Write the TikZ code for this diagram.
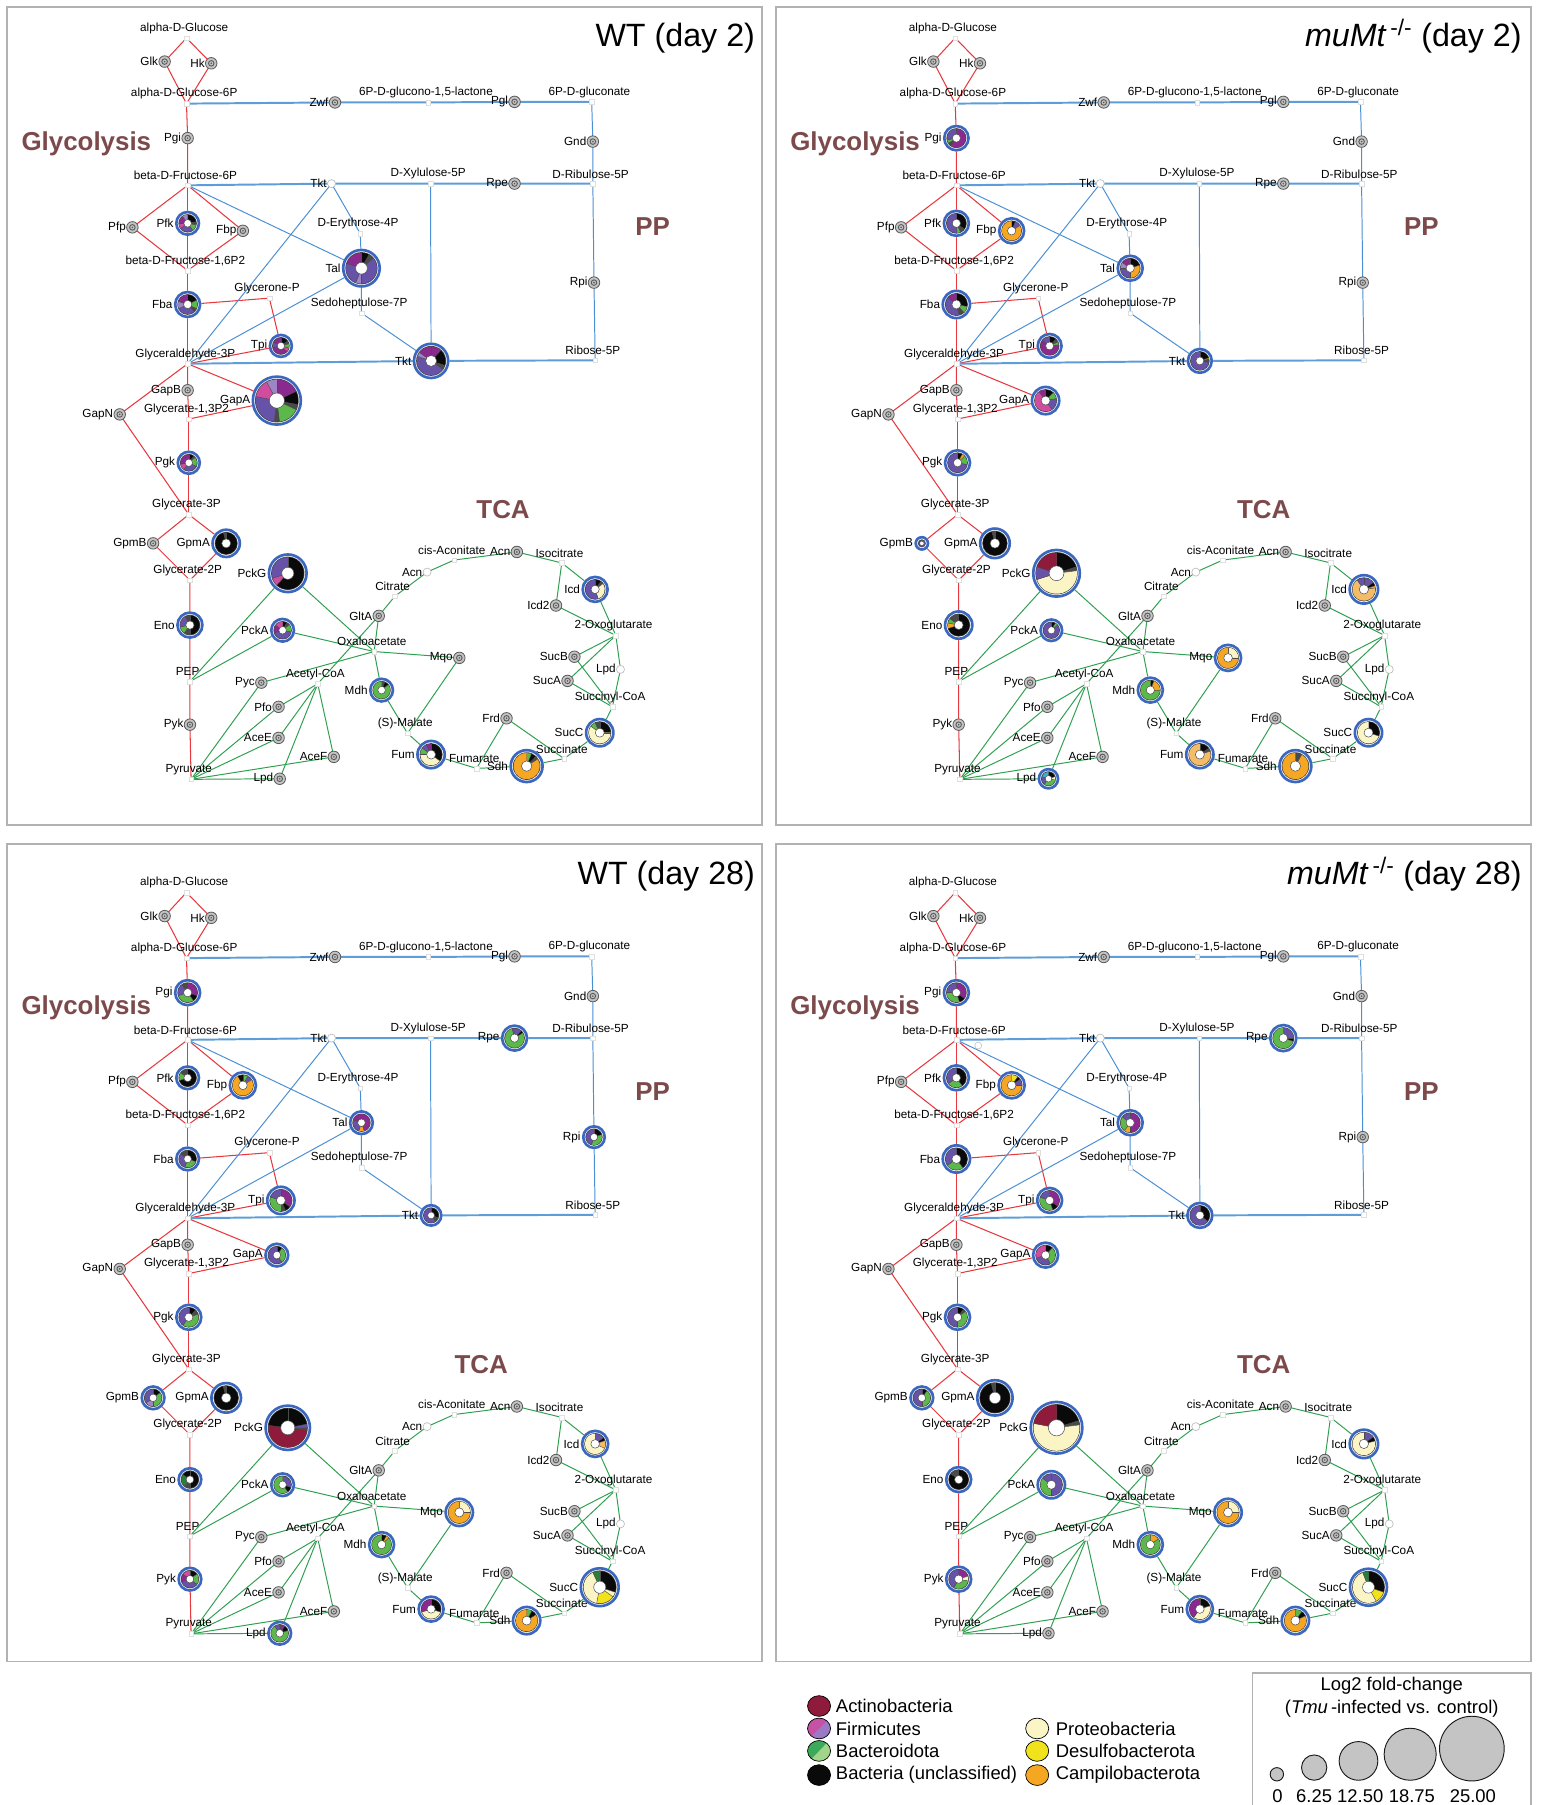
\documentclass[tikz,border=0pt]{standalone}
\usepackage{fontspec}
\setmainfont{Liberation Sans}
\usetikzlibrary{calc}
\definecolor{cA}{HTML}{8E1B3B}
\definecolor{cP}{HTML}{6652A6}
\definecolor{cM}{HTML}{8B2A8E}
\definecolor{cK}{HTML}{CF4C9E}
\definecolor{cL}{HTML}{9C86C6}
\definecolor{cG}{HTML}{5DB84B}
\definecolor{cD}{HTML}{2E7D3A}
\definecolor{cH}{HTML}{93D06E}
\definecolor{cB}{HTML}{0A0A0A}
\definecolor{cY}{HTML}{4A4A4A}
\definecolor{cC}{HTML}{FBF5C6}
\definecolor{cW}{HTML}{F0E21B}
\definecolor{cO}{HTML}{F5A623}
\definecolor{cT}{HTML}{F4BC67}
\definecolor{cQ}{HTML}{3AB3C3}
\definecolor{pieblue}{HTML}{3B68BE}
\definecolor{edgered}{HTML}{E8383D}
\definecolor{edgeblue}{HTML}{4A8FD4}
\definecolor{edgeblueT}{HTML}{5E9DDA}
\definecolor{edgegreen}{HTML}{2FA050}
\definecolor{brownlab}{HTML}{7D4A4C}
\definecolor{icongray}{HTML}{C4C4C4}
\definecolor{icondark}{HTML}{5A5A5A}
\definecolor{legpink}{HTML}{C552A5}
\definecolor{leglav}{HTML}{9A7AC5}
\definecolor{leggreen}{HTML}{3CAA5A}
\definecolor{leglgreen}{HTML}{A0D58A}
\definecolor{sizegray}{HTML}{C4C4C4}

\tikzset{
  redE/.style={draw=edgered, line width=0.9},
  bluE/.style={draw=edgeblue, line width=0.85},
  bluT/.style={draw=edgeblueT, line width=1.7},
  grnE/.style={draw=edgegreen, line width=0.85},
  mlab/.style={font=\fontsize{10.2}{11}\selectfont, inner sep=0},
  elab/.style={font=\fontsize{10.2}{11}\selectfont, inner sep=0, anchor=east},
  sect/.style={font=\fontsize{22.5}{24}\selectfont\bfseries, text=brownlab, inner sep=0},
  ttl/.style={font=\fontsize{28}{30}\selectfont, anchor=base east, inner sep=0},
  panelframe/.style={draw=gray!60, line width=1.3},
  legtext/.style={font=\fontsize{16}{18}\selectfont, inner sep=0},
  sizecirc/.style={fill=sizegray, draw=gray!20!black, line width=0.8},
}

\newcommand\defpt[2]{\expandafter\def\csname pt@#1\endcsname{#2}}
\newcommand\Pos[1]{\csname pt@#1\endcsname}
\newcommand\deflab[2]{\expandafter\def\csname lab@#1\endcsname{#2}}
\newcommand\Lab[1]{\ifcsname lab@#1\endcsname\csname lab@#1\endcsname\else#1\fi}

% metabolites
\defpt{aGlc}{162,33}
\defpt{G6P}{162,90}
\defpt{Lac}{372,89}
\defpt{Gluc}{514,88.5}
\defpt{F6P}{163,161}
\defpt{Xu5P}{374,159.5}
\defpt{Ru5P}{515,159.5}
\defpt{E4P}{313,203}
\defpt{F16P2}{163,235}
\defpt{GlyP}{234,259}
\defpt{S7P}{314,272}
\defpt{GA3P}{163,316}
\defpt{R5P}{517,313}
\defpt{BPG}{164,364}
\defpt{G3P}{164,447}
\defpt{G2P}{165,504}
\defpt{PEP}{165,592}
\defpt{Pyr}{166,677}
\defpt{AcCoA}{276,594}
\defpt{OAA}{325,566}
\defpt{Cit}{343,518}
\defpt{cAco}{394.5,486.5}
\defpt{Icit}{488,489}
\defpt{OG}{535,552}
\defpt{SucCoA}{532,614}
\defpt{Succ}{490,659}
\defpt{Fumar}{414,667.5}
\defpt{Mal}{354,637}
% enzymes
\defpt{Glk}{143,53.5}
\defpt{Hk}{183.5,55}
\defpt{Zwf}{291,89}
\defpt{Pgl}{447,88.5}
\defpt{Gnd}{515,123}
\defpt{Pgi}{163,120}
\defpt{Rpe}{447,159.5}
\defpt{Pfp}{115,197.5}
\defpt{Pfk}{163,194}
\defpt{Fbp}{211,200.5}
\defpt{TktU}{288,159.5}
\defpt{Tal}{314,233}
\defpt{Fba}{163,264.5}
\defpt{Rpi}{516,245.5}
\defpt{Tpi}{244,300.5}
\defpt{Tkt}{374.5,313.5}
\defpt{GapB}{163,339}
\defpt{GapN}{104,360}
\defpt{GapA}{240.5,348}
\defpt{Pgk}{164,402}
\defpt{GpmB}{133,472}
\defpt{GpmA}{196.5,472}
\defpt{PckG}{250,498}
\defpt{Eno}{165,543}
\defpt{PckA}{245.5,547.5}
\defpt{Pyk}{165,629.5}
\defpt{Pyc}{227,593}
\defpt{Pfo}{242,614}
\defpt{AceE}{242,641}
\defpt{AceF}{290,657.5}
\defpt{LpdA}{243,676.5}
\defpt{GltA}{329,535}
\defpt{AcnA}{371,497}
\defpt{AcnB}{449,479.5}
\defpt{Icd}{517,512}
\defpt{Icd2}{483,526}
\defpt{Mqo}{399,571.5}
\defpt{Mdh}{331.5,599.5}
\defpt{SucB}{499,570.5}
\defpt{LpdB}{539,581.5}
\defpt{SucA}{493,591.5}
\defpt{Frd}{440,624}
\defpt{SucC}{521,636.5}
\defpt{Fum}{374.5,655.5}
\defpt{Sdh}{457.5,665.5}
\deflab{LpdA}{Lpd}
\deflab{LpdB}{Lpd}
\deflab{AcnA}{Acn}
\deflab{AcnB}{Acn}
\deflab{TktU}{Tkt}

\newcommand\enzicon[1]{%
  \filldraw[fill=icongray, draw=icondark, line width=0.7] (\Pos{#1}) circle[radius=5];
  \draw[draw=icondark, line width=0.8] (\Pos{#1}) circle[radius=2.4];
  \fill[icondark] (\Pos{#1}) circle[radius=0.8];
  \path (\Pos{#1}) ++(-5.5,0) node[elab] (lab-#1) {\Lab{#1}};
}
\newcommand\icons[1]{\foreach \n in {#1}{\enzicon{\n}}}
\newcommand\ecirc[1]{%
  \filldraw[fill=white, draw=gray!50, line width=0.6] (\Pos{#1}) circle[radius=3.5];
  \path (\Pos{#1}) ++(-4,0) node[elab] (lab-#1) {\Lab{#1}};
}
\newcommand\piec[3]{%
  \begin{scope}[shift={(\Pos{#1})}]
    \pgfmathsetmacro\ro{#2-3.6}
    \pgfmathsetmacro\ri{0.3*#2}
    \fill[white] (0,0) circle[radius=#2];
    \draw[pieblue, line width=2.3] (0,0) circle[radius=#2-1.15];
    \fill[gray!55!black] (0,0) circle[radius=\ro+0.6];
    \gdef\angA{-90}
    \foreach \c/\p in {#3}{%
      \pgfmathsetmacro\angB{\angA+3.6*\p}
      \fill[\c] (\angA:\ri) -- (\angA:\ro) arc[start angle=\angA, end angle=\angB, radius=\ro] -- (\angB:\ri) arc[start angle=\angB, end angle=\angA, radius=\ri] -- cycle;
      \draw[gray!60!black, line width=0.35] (\angA:\ri) -- (\angA:\ro);
      \xdef\angA{\angB}
    }
    \filldraw[fill=white, draw=gray!60!black, line width=0.4] (0,0) circle[radius=\ri];
  \end{scope}
  \path (\Pos{#1}) ++(-#2-1,0) node[elab] (lab-#1) {\Lab{#1}};
}
\newcommand\mlabel[2]{\path (\Pos{#1}) ++(-2,-8.5) node[mlab] (L#1) {#2};}

\newcommand\drawnet[2]{%
  \foreach \n in {aGlc,G6P,Lac,Gluc,F6P,Xu5P,Ru5P,E4P,F16P2,GlyP,S7P,GA3P,R5P,BPG,G3P,G2P,PEP,Pyr,AcCoA,OAA,Cit,cAco,Icit,OG,SucCoA,Succ,Fumar,Mal,Glk,Hk,Zwf,Pgl,Gnd,Pgi,Rpe,Pfp,Pfk,Fbp,TktU,Tal,Fba,Rpi,Tpi,Tkt,GapB,GapN,GapA,Pgk,GpmB,GpmA,PckG,Eno,PckA,Pyk,Pyc,Pfo,AceE,AceF,LpdA,GltA,AcnA,AcnB,Icd,Icd2,Mqo,Mdh,SucB,LpdB,SucA,Frd,SucC,Fum,Sdh}{\coordinate (\n) at (\Pos{\n});}
  % glycolysis
  \draw[redE] (aGlc)--(Glk)--(G6P);
  \draw[redE] (aGlc)--(Hk)--(G6P);
  \draw[redE] (G6P)--(Pgi)--(F6P);
  \draw[redE] (F6P)--(Pfp)--(F16P2);
  \draw[redE] (F6P)--(Pfk)--(F16P2);
  \draw[redE] (F6P)--(Fbp)--(F16P2);
  \draw[redE] (F16P2)--(Fba)--(GA3P);
  \draw[redE] (Fba)--(GlyP)--(Tpi)--(GA3P);
  \draw[redE] (GA3P)--(GapB)--(BPG);
  \draw[redE] (GA3P)--(GapA)--(BPG);
  \draw[redE] (GA3P)--(GapN)--(G3P);
  \draw[redE] (BPG)--(Pgk)--(G3P);
  \draw[redE] (G3P)--(GpmB)--(G2P);
  \draw[redE] (G3P)--(GpmA)--(G2P);
  \draw[redE] (G2P)--(Eno)--(PEP)--(Pyk)--(Pyr);
  % pentose phosphate
  \draw[bluT] (G6P)--(Zwf)--(Lac)--(Pgl)--(Gluc);
  \draw[bluT] (F6P)--(TktU)--(Xu5P)--(Rpe)--(Ru5P);
  \draw[bluT] (GA3P)--(Tkt)--(R5P);
  \draw[bluE] (Gluc)--(Gnd)--(Ru5P)--(Rpi)--(R5P);
  \draw[bluE] (Xu5P)--(Tkt);
  \draw[bluE] (S7P)--(Tkt);
  \draw[bluE] (TktU)--(E4P)--(Tal)--(S7P);
  \draw[bluE] (TktU)--(GA3P);
  \draw[bluE] (F6P)--(Tal)--(GA3P);
  % TCA
  \draw[grnE] (PEP)--(PckG)--(OAA);
  \draw[grnE] (PEP)--(PckA)--(OAA);
  \draw[grnE] (Pyr)--(Pyc)--(OAA);
  \draw[grnE] (Pyr)--(Pfo)--(AcCoA);
  \draw[grnE] (Pyr)--(AceE)--(AcCoA);
  \draw[grnE] (Pyr)--(AceF)--(AcCoA);
  \draw[grnE] (Pyr)--(LpdA)--(AcCoA);
  \draw[grnE] (AcCoA)--(GltA);
  \draw[grnE] (OAA)--(GltA)--(Cit)--(AcnA)--(cAco)--(AcnB)--(Icit);
  \draw[grnE] (Icit)--(Icd)--(OG);
  \draw[grnE] (Icit)--(Icd2)--(OG);
  \draw[grnE] (OG)--(SucB)--(SucCoA);
  \draw[grnE] (OG)--(SucA)--(SucCoA);
  \draw[grnE] (OG)--(LpdB)--(SucCoA);
  \draw[grnE] (SucCoA)--(SucC)--(Succ);
  \draw[grnE] (Succ)--(Sdh)--(Fumar);
  \draw[grnE] (Succ)--(Frd)--(Fumar);
  \draw[grnE] (Fumar)--(Fum)--(Mal);
  \draw[grnE] (Mal)--(Mdh)--(OAA);
  \draw[grnE] (Mal)--(Mqo)--(OAA);
  \foreach \n in {aGlc,G6P,Lac,Gluc,F6P,Xu5P,Ru5P,E4P,F16P2,GlyP,S7P,GA3P,R5P,BPG,G3P,G2P,PEP,Pyr,AcCoA,OAA,Cit,cAco,Icit,OG,SucCoA,Succ,Fumar,Mal}{\filldraw[fill=white, draw=gray!25, line width=0.3] (\Pos{\n}) ++(-2,-2) rectangle ++(4,4);}
  \mlabel{aGlc}{alpha-D-Glucose}
  \mlabel{G6P}{alpha-D-Glucose-6P}
  \mlabel{Lac}{6P-D-glucono-1,5-lactone}
  \mlabel{Gluc}{6P-D-gluconate}
  \mlabel{F6P}{beta-D-Fructose-6P}
  \mlabel{Xu5P}{D-Xylulose-5P}
  \mlabel{Ru5P}{D-Ribulose-5P}
  \mlabel{E4P}{D-Erythrose-4P}
  \mlabel{F16P2}{beta-D-Fructose-1,6P2}
  \mlabel{GlyP}{Glycerone-P}
  \mlabel{S7P}{Sedoheptulose-7P}
  \mlabel{GA3P}{Glyceraldehyde-3P}
  \mlabel{R5P}{Ribose-5P}
  \mlabel{BPG}{Glycerate-1,3P2}
  \mlabel{G3P}{Glycerate-3P}
  \mlabel{G2P}{Glycerate-2P}
  \mlabel{PEP}{PEP}
  \mlabel{Pyr}{Pyruvate}
  \mlabel{AcCoA}{Acetyl-CoA}
  \mlabel{OAA}{Oxaloacetate}
  \mlabel{Cit}{Citrate}
  \mlabel{cAco}{cis-Aconitate}
  \mlabel{Icit}{Isocitrate}
  \mlabel{OG}{2-Oxoglutarate}
  \mlabel{SucCoA}{Succinyl-CoA}
  \mlabel{Succ}{Succinate}
  \mlabel{Fumar}{Fumarate}
  \mlabel{Mal}{(S)-Malate}
  \node[sect] (glyc) at (75,124.5+#2) {Glycolysis};
  \node[sect] (pp) at (567,197+#2) {PP};
  \node[sect] (tca) at (#1,443) {TCA};
  \ecirc{TktU}\ecirc{AcnA}\ecirc{LpdB}
}

\begin{document}
\begin{tikzpicture}[x=1pt, y=-1pt]
\useasboundingbox (0,0) rectangle (1338,1568);
\fill[white] (0,0) rectangle (1338,1568);

% frames and titles
\draw[panelframe] (6,6) rectangle (662,716.5);
\draw[panelframe] (674,6) rectangle (1330,716.5);
\draw[panelframe] (6,733) rectangle (662,1443.5);
\draw[panelframe] (674,733) rectangle (1330,1443.5);
\node[ttl] (t1) at (656,40) {WT (day 2)};
\node[ttl] (t2) at (1322,40) {\textit{muMt}\textsuperscript{\,-/-} (day 2)};
\node[ttl] (t3) at (656,768) {WT (day 28)};
\node[ttl] (t4) at (1322,768) {\textit{muMt}\textsuperscript{\,-/-} (day 28)};

% ---------- Panel 1: WT day 2
\begin{scope}
\drawnet{437}{0}
\icons{Glk,Hk,Zwf,Pgl,Gnd,Pgi,Rpe,Pfp,Fbp,Rpi,GapB,GapN,GpmB,Pyk,Pyc,Pfo,AceE,AceF,LpdA,GltA,AcnB,Icd2,Mqo,SucB,SucA,Frd}
\piec{Pfk}{11}{cB/22,cY/6,cG/12,cP/25,cK/10,cM/15,cL/10}
\piec{Tal}{17}{cB/8,cY/6,cP/36,cL/6,cP/24,cM/20}
\piec{Fba}{12}{cB/18,cG/14,cY/6,cP/30,cL/12,cM/20}
\piec{Tpi}{10.7}{cB/15,cY/6,cG/8,cK/8,cM/35,cP/10,cM/18}
\piec{Tkt}{16}{cM/12,cB/18,cY/5,cP/45,cL/5,cM/15}
\piec{GapA}{22}{cM/18,cB/10,cY/4,cG/16,cY/4,cP/26,cK/14,cL/8}
\piec{Pgk}{10.7}{cB/10,cY/4,cG/18,cP/28,cK/12,cM/28}
\piec{GpmA}{13}{cB/96,cY/4}
\piec{PckG}{17.5}{cB/62,cK/8,cP/30}
\piec{Eno}{12}{cB/50,cY/10,cG/12,cP/20,cY/8}
\piec{PckA}{11}{cB/8,cY/6,cG/14,cP/42,cM/15,cK/15}
\piec{Mdh}{11}{cY/6,cB/8,cG/86}
\piec{Icd}{12}{cB/10,cY/5,cC/30,cP/55}
\piec{Fum}{13}{cB/35,cC/40,cG/10,cP/8,cM/7}
\piec{SucC}{13}{cB/25,cC/60,cG/8,cY/7}
\piec{Sdh}{15}{cG/6,cB/6,cY/4,cO/84}
\end{scope}

% ---------- Panel 2: muMt day 2
\begin{scope}[shift={(667.8,0)}]
\drawnet{430}{0}
\icons{Glk,Hk,Zwf,Pgl,Gnd,Rpe,Pfp,Rpi,GapB,GapN,Pyk,Pyc,Pfo,AceE,AceF,GltA,AcnB,Icd2,SucB,SucA,Frd}
\piec{Pgi}{11.7}{cM/60,cY/6,cG/6,cP/28}
\piec{Pfk}{12}{cB/35,cY/8,cG/6,cP/51}
\piec{Fbp}{12}{cB/6,cP/10,cO/84}
\piec{Tal}{12}{cB/20,cO/30,cP/25,cL/10,cM/15}
\piec{Fba}{13}{cB/28,cG/10,cY/8,cP/40,cM/14}
\piec{Tpi}{11.5}{cB/12,cY/6,cG/5,cM/62,cP/15}
\piec{Tkt}{11.5}{cB/20,cW/2,cY/6,cP/72}
\piec{GapA}{13}{cB/12,cG/10,cP/18,cK/50,cM/10}
\piec{Pgk}{12}{cB/8,cO/5,cG/15,cP/72}
\piec{GpmB}{6.5}{cP/60,cY/40}
\piec{GpmA}{14}{cB/96,cY/4}
\piec{PckG}{21.4}{cB/20,cY/3,cC/47,cP/10,cA/20}
\piec{Eno}{13}{cB/70,cO/8,cG/7,cY/15}
\piec{PckA}{10.5}{cB/8,cG/6,cP/86}
\piec{Mdh}{12}{cB/6,cO/20,cG/74}
\piec{Mqo}{12.5}{cC/25,cO/75}
\piec{LpdA}{9.5}{cB/20,cC/8,cG/32,cP/20,cQ/20}
\piec{Icd}{13.5}{cP/15,cB/5,cO/3,cT/67,cP/10}
\piec{Fum}{13}{cB/15,cY/5,cT/80}
\piec{SucC}{13}{cB/30,cC/70}
\piec{Sdh}{15}{cY/8,cO/92}
\end{scope}

% ---------- Panel 3: WT day 28
\begin{scope}[shift={(0,742.3)}]
\drawnet{418}{9}
\icons{Glk,Hk,Zwf,Pgl,Gnd,Pfp,GapB,GapN,Pyc,Pfo,AceE,AceF,GltA,AcnB,Icd2,SucB,SucA,Frd}
\piec{Pgi}{12}{cM/30,cB/10,cG/30,cP/20,cY/10}
\piec{Rpe}{12}{cP/12,cB/4,cG/80,cP/4}
\piec{Pfk}{11}{cB/70,cG/15,cY/15}
\piec{Fbp}{12.5}{cG/8,cP/8,cO/76,cB/8}
\piec{Tal}{11}{cM/45,cO/10,cP/25,cM/20}
\piec{Fba}{11}{cB/30,cG/25,cP/30,cY/15}
\piec{Rpi}{10.5}{cB/20,cG/35,cP/45}
\piec{Tpi}{13}{cM/35,cB/8,cY/7,cG/30,cP/20}
\piec{Tkt}{10}{cB/30,cY/10,cP/60}
\piec{GapA}{11}{cB/10,cG/30,cP/60}
\piec{Pgk}{12}{cB/12,cY/8,cG/40,cP/40}
\piec{GpmB}{11}{cB/15,cG/35,cL/15,cP/35}
\piec{GpmA}{14}{cB/96,cY/4}
\piec{PckG}{20.4}{cB/22,cP/3,cY/2,cA/50,cB/23}
\piec{Eno}{11}{cB/50,cY/10,cD/25,cB/15}
\piec{PckA}{11}{cP/30,cB/10,cG/60}
\piec{Pyk}{11}{cB/15,cG/20,cP/35,cM/15,cK/15}
\piec{Mdh}{12}{cB/8,cO/5,cG/87}
\piec{Mqo}{13}{cC/25,cO/75}
\piec{LpdA}{11}{cM/10,cB/10,cG/70,cP/10}
\piec{Icd}{12.5}{cP/15,cB/5,cT/12,cC/68}
\piec{Fum}{12}{cB/30,cC/40,cM/30}
\piec{SucC}{17.6}{cB/30,cC/5,cW/18,cC/40,cD/7}
\piec{Sdh}{13}{cG/8,cB/8,cO/84}
\end{scope}

% ---------- Panel 4: muMt day 28
\begin{scope}[shift={(667.8,742.3)}]
\drawnet{430}{9}
\icons{Glk,Hk,Zwf,Pgl,Gnd,Pfp,Rpi,GapB,GapN,Pyc,Pfo,AceE,AceF,LpdA,GltA,AcnB,Icd2,SucB,SucA,Frd}
\piec{Pgi}{12}{cM/35,cB/10,cG/30,cP/25}
\piec{Rpe}{12.5}{cP/25,cB/5,cG/70}
\piec{Pfk}{12}{cB/40,cG/25,cP/35}
\piec{Fbp}{12.5}{cW/10,cB/5,cP/10,cO/75}
\piec{Tal}{12}{cM/50,cO/10,cG/25,cP/15}
\piec{Fba}{13}{cB/40,cG/25,cP/35}
\piec{Tpi}{12}{cM/35,cB/10,cG/35,cP/20}
\piec{Tkt}{12}{cB/35,cP/65}
\piec{GapA}{12}{cB/12,cG/30,cP/28,cK/30}
\piec{Pgk}{12}{cB/10,cY/5,cG/35,cP/50}
\piec{GpmB}{11}{cB/10,cG/40,cP/50}
\piec{GpmA}{16.5}{cB/96,cY/4}
\piec{PckG}{23.6}{cB/20,cY/3,cC/55,cA/22}
\piec{Eno}{12}{cB/85,cY/15}
\piec{PckA}{13}{cP/50,cG/35,cP/15}
\piec{Pyk}{12}{cM/20,cC/8,cG/30,cP/42}
\piec{Mdh}{12}{cO/15,cG/85}
\piec{Mqo}{13}{cC/25,cO/75}
\piec{Icd}{13.5}{cP/15,cB/6,cC/79}
\piec{Fum}{12.5}{cB/20,cC/40,cM/40}
\piec{SucC}{17.2}{cB/30,cW/12,cC/52,cD/6}
\piec{Sdh}{13}{cG/10,cB/8,cO/82}
\draw[gray!45, line width=0.6] (182,166) circle[radius=3];
\end{scope}

% ---------- Legend (phyla)
\filldraw[fill=cA, draw=black, line width=0.6] (711.5,1482) ellipse[x radius=10, y radius=9];
\begin{scope}
  \clip (711.5,1501.5) ellipse[x radius=10, y radius=9];
  \fill[leglav] (700,1490) rectangle (723,1513);
  \fill[legpink] (700,1490) -- (723,1490) -- (700,1513) -- cycle;
\end{scope}
\draw[black, line width=0.6] (711.5,1501.5) ellipse[x radius=10, y radius=9];
\begin{scope}
  \clip (711.5,1521) ellipse[x radius=10, y radius=9];
  \fill[leglgreen] (700,1509) rectangle (723,1533);
  \fill[leggreen] (700,1509) -- (723,1509) -- (700,1533) -- cycle;
\end{scope}
\draw[black, line width=0.6] (711.5,1521) ellipse[x radius=10, y radius=9];
\filldraw[fill=cB, draw=black, line width=0.6] (711.5,1542) ellipse[x radius=10, y radius=9];
\filldraw[fill=cC, draw=black, line width=0.6] (901,1501.5) ellipse[x radius=10, y radius=9];
\filldraw[fill=cW, draw=black, line width=0.6] (901,1521) ellipse[x radius=10, y radius=9];
\filldraw[fill=cO, draw=black, line width=0.6] (901,1542) ellipse[x radius=10, y radius=9];
\node[legtext, anchor=west] (lg1) at (726,1482) {Actinobacteria};
\node[legtext, anchor=west] (lg2) at (726,1501.5) {Firmicutes};
\node[legtext, anchor=west] (lg3) at (726,1521) {Bacteroidota};
\node[legtext, anchor=west] (lg4) at (726,1542) {Bacteria (unclassified)};
\node[legtext, anchor=west] (lg5) at (917,1501.5) {Proteobacteria};
\node[legtext, anchor=west] (lg6) at (917,1521) {Desulfobacterota};
\node[legtext, anchor=west] (lg7) at (917,1542) {Campilobacterota};

% ---------- Legend (size)
\draw[panelframe] (1088,1453.5) rectangle (1330,1600);
\node[legtext] (sz1) at (1209,1464) {Log2 fold-change};
\node[legtext] (sz2) at (1209,1484.5) {(\textit{Tmu}\,-infected vs. control)};
\filldraw[sizecirc] (1109.2,1541.3) circle[radius=5.8];
\filldraw[sizecirc] (1141.6,1535.5) circle[radius=11];
\filldraw[sizecirc] (1180.1,1529.7) circle[radius=16.8];
\filldraw[sizecirc] (1225,1523.9) circle[radius=22.6];
\filldraw[sizecirc] (1278.6,1519) circle[radius=28.1];
\node[legtext] (sv1) at (1109.8,1560.5) {0};
\node[legtext] (sv2) at (1141.6,1560.5) {6.25};
\node[legtext] (sv3) at (1181.6,1560.5) {12.50};
\node[legtext] (sv4) at (1226.5,1560.5) {18.75};
\node[legtext] (sv5) at (1279.5,1560.5) {25.00};
\end{tikzpicture}
\end{document}
